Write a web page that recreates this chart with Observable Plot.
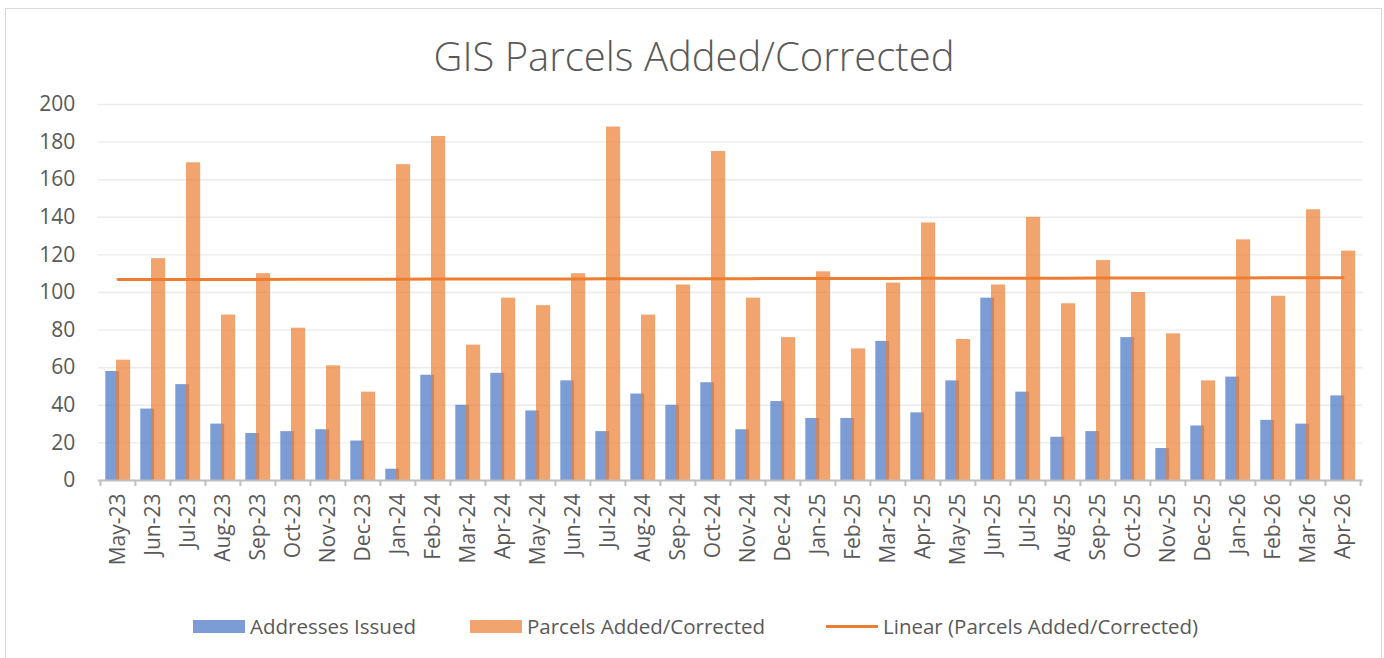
<!DOCTYPE html>
<html><head><meta charset="utf-8">
<script src="https://cdn.jsdelivr.net/npm/d3@7"></script>
<script src="https://cdn.jsdelivr.net/npm/@observablehq/plot@0.6"></script>
<style>
body{margin:0;background:#fff;font-family:"Open Sans",sans-serif;width:1384px;height:658px;overflow:hidden;position:relative;}
#frame{position:absolute;left:5px;top:8px;width:1377px;height:700px;border:1.5px solid #d9d9d9;box-sizing:border-box;}
#title{position:absolute;left:0;width:1388px;top:36px;text-align:center;font-size:40px;font-weight:300;color:#595959;line-height:1;}
#chart{position:absolute;left:0;top:0;}
.leg{position:absolute;top:614px;display:flex;align-items:center;font-size:20.5px;color:#595959;height:24px;white-space:nowrap;}
.sw{display:inline-block;width:52px;height:13px;margin-right:5px;}
.ln{display:inline-block;width:52px;height:3px;margin-right:5px;}
</style></head><body>
<div id="frame"></div>
<div id="chart"></div>
<div id="title"></div>
<div id="legend"></div>
<script>
const titleText = "GIS Parcels Added/Corrected";
const months = ["May-23","Jun-23","Jul-23","Aug-23","Sep-23","Oct-23","Nov-23","Dec-23","Jan-24","Feb-24","Mar-24","Apr-24","May-24","Jun-24","Jul-24","Aug-24","Sep-24","Oct-24","Nov-24","Dec-24","Jan-25","Feb-25","Mar-25","Apr-25","May-25","Jun-25","Jul-25","Aug-25","Sep-25","Oct-25","Nov-25","Dec-25","Jan-26","Feb-26","Mar-26","Apr-26"];
const addresses = [58,38,51,30,25,26,27,21,6,56,40,57,37,53,26,46,40,52,27,42,33,33,74,36,53,97,47,23,26,76,17,29,55,32,30,45];
const parcels = [64,118,169,88,110,81,61,47,168,183,72,97,93,110,188,88,104,175,97,76,111,70,105,137,75,104,140,94,117,100,78,53,128,98,144,122];
const seriesNames = ["Addresses Issued","Parcels Added/Corrected","Linear (Parcels Added/Corrected)"];
const seriesColors = ["#4472C4","#ED7D31","#ED7D31"];
const yTicks = [0,20,40,60,80,100,120,140,160,180,200];

const data = months.map((m,i)=>({month:m, addresses:addresses[i], parcels:parcels[i]}));
// least-squares trend of parcels over month index
const n = months.length;
const xs = months.map((_,i)=>i+1);
const mx = d3.mean(xs), my = d3.mean(parcels);
const slope = d3.sum(xs,(x,i)=>(x-mx)*(parcels[i]-my)) / d3.sum(xs,x=>(x-mx)**2);
const trend = months.map((m,i)=>({month:m, value: my + slope*(xs[i]-mx)}));

const left = 97.7, right = 1362.7;
const bw = (right-left)/n;

const chart = Plot.plot({
  width:1384, height:600,
  marginLeft:left, marginRight:1384-right, marginTop:104, marginBottom:120,
  style:{fontFamily:"Open Sans", color:"#595959", background:"transparent", overflow:"visible"},
  x:{domain:months, padding:0, label:null},
  y:{domain:[0,200], ticks:yTicks, label:null},
  marks:[
    Plot.gridY(yTicks, {stroke:"#ebebeb", strokeOpacity:1, strokeWidth:1.4}),
    Plot.barY(data, {x:"month", y:"addresses", fill:seriesColors[0], fillOpacity:0.7, insetLeft:5.3, insetRight:bw-19.3}),
    Plot.barY(data, {x:"month", y:"parcels", fill:seriesColors[1], fillOpacity:0.7, insetLeft:16, insetRight:bw-30.3}),
    Plot.ruleY([0], {stroke:"#bfbfbf", strokeWidth:2}),
    Plot.axisX({ticks:months, tickSize:6, fill:"none", stroke:"#bfbfbf", strokeWidth:2, dx:-bw/2, label:null}),
    Plot.axisX({ticks:[months[n-1]], tickSize:6, fill:"none", stroke:"#bfbfbf", strokeWidth:2, dx:bw/2, label:null}),
    Plot.axisX({tickSize:0, tickRotate:-90, tickPadding:13, fontSize:21, fill:"#595959", label:null, style:{letterSpacing:"0.3px"}}),
    Plot.axisY({ticks:yTicks, tickSize:0, tickPadding:23, fontSize:21, fill:"#595959", label:null}),
    Plot.line(trend, {x:"month", y:"value", stroke:seriesColors[2], strokeWidth:3})
  ]
});
document.getElementById("chart").appendChild(chart);
document.getElementById("title").textContent = titleText;

const legendLeft = [193, 470, 826];
const leg = document.getElementById("legend");
seriesNames.forEach((name,i)=>{
  const d = document.createElement("div");
  d.className = "leg";
  d.style.left = legendLeft[i]+"px";
  const s = document.createElement("span");
  if (i < 2) { s.className = "sw"; s.style.background = seriesColors[i]; s.style.opacity = 0.7; }
  else { s.className = "ln"; s.style.background = seriesColors[i]; }
  d.appendChild(s);
  const t = document.createElement("span");
  t.textContent = name;
  d.appendChild(t);
  leg.appendChild(d);
});
</script>
</body></html>
